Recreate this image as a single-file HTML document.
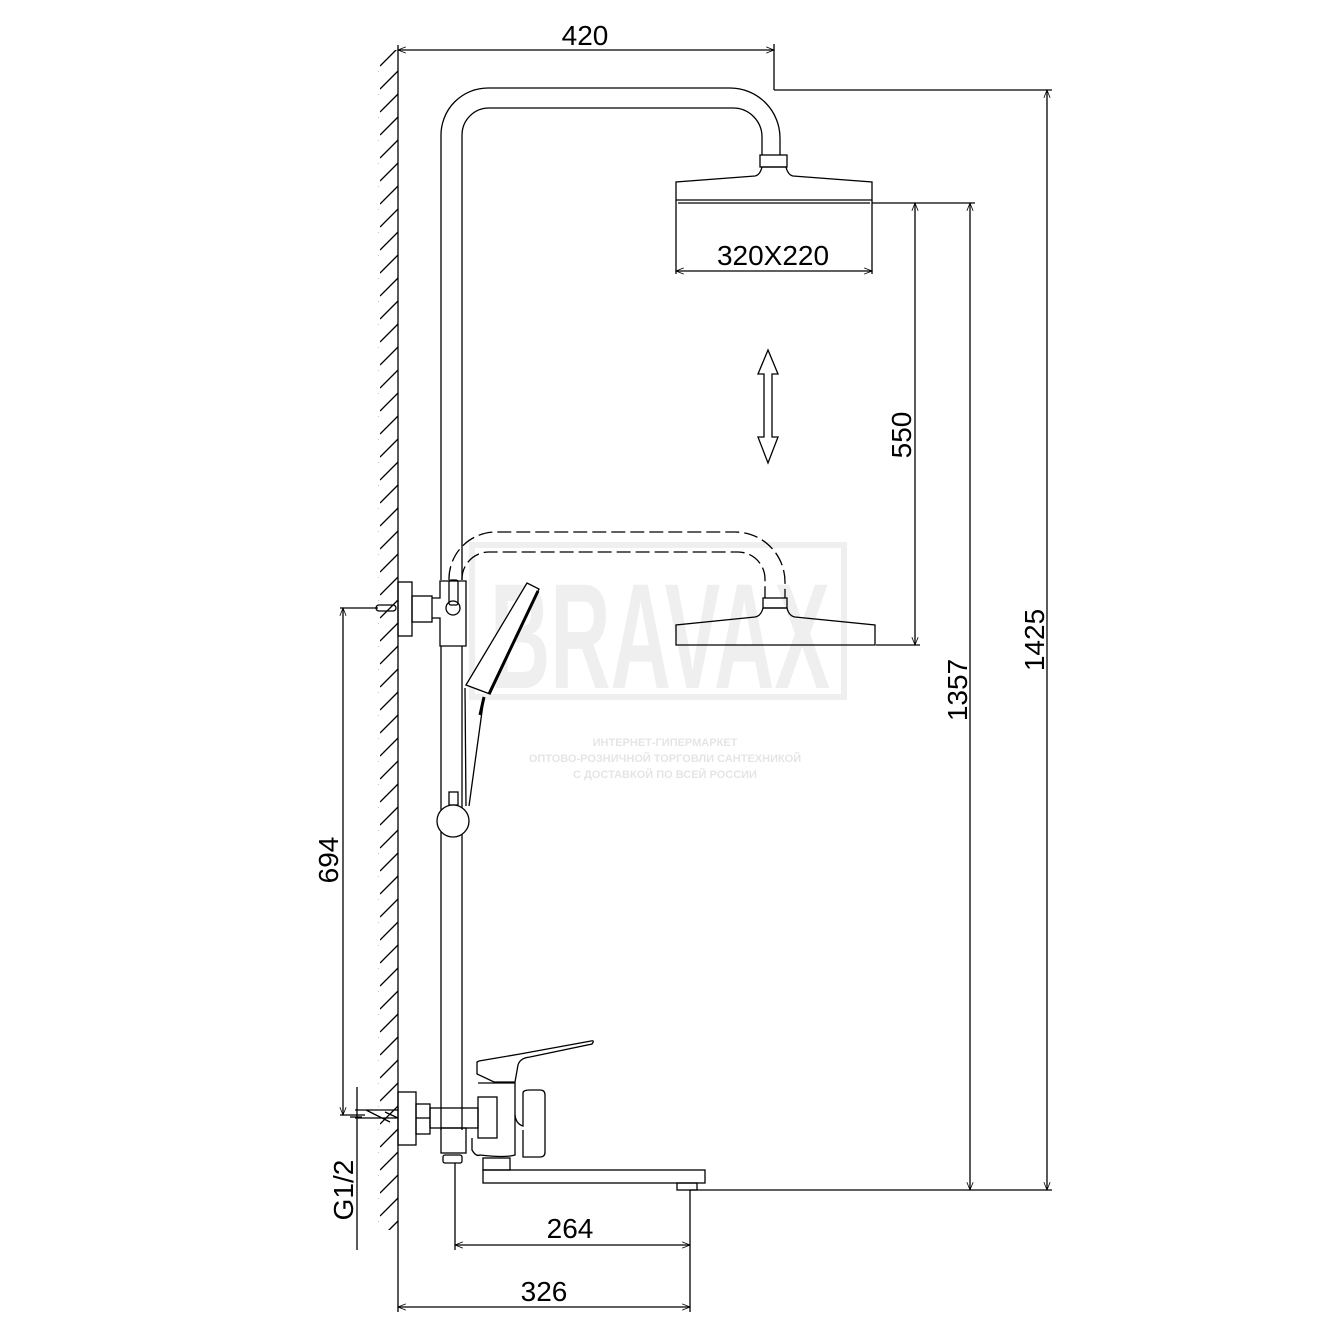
<!DOCTYPE html>
<html><head><style>
html,body{margin:0;padding:0;background:#fff}
svg{display:block}
text{font-family:"Liberation Sans","Noto Sans CJK SC",sans-serif;fill:#000}
</style></head><body>
<svg width="1333" height="1333" viewBox="0 0 1333 1333" xmlns="http://www.w3.org/2000/svg">
<defs>
<marker id="a" viewBox="0 0 10 10" refX="10" refY="5" markerWidth="10" markerHeight="6" orient="auto-start-reverse"><path d="M0,1 L10,5 L0,9" fill="none" stroke="#000" stroke-width="1"/></marker>
<pattern id="h" width="20" height="23" patternUnits="userSpaceOnUse"><line x1="0" y1="20" x2="18" y2="2" stroke="#000" stroke-width="1.3"/></pattern>
</defs>
<!-- watermark -->
<g opacity="0.06">
<rect x="472" y="545" width="372" height="152" fill="none" stroke="#000" stroke-width="6"/>
<text x="490" y="688" font-size="150" font-weight="bold" textLength="340" lengthAdjust="spacingAndGlyphs">BRAVAX</text>
</g>
<g opacity="0.1" font-size="11" font-weight="bold" text-anchor="middle">
<text x="665" y="746">ИНТЕРНЕТ-ГИПЕРМАРКЕТ</text>
<text x="665" y="762">ОПТОВО-РОЗНИЧНОЙ ТОРГОВЛИ САНТЕХНИКОЙ</text>
<text x="665" y="778">С ДОСТАВКОЙ ПО ВСЕЙ РОССИИ</text>
</g>
<g fill="none" stroke="#000" stroke-width="1.3">
<rect x="378" y="50" width="20" height="1180" fill="url(#h)" stroke="none"/>
<line x1="398" y1="45" x2="398" y2="1312"/>
<line x1="398" y1="50" x2="774" y2="50" marker-start="url(#a)" marker-end="url(#a)"/>
<line x1="774" y1="44" x2="774" y2="90"/>
<path d="M441,580 V135 A47,47 0 0 1 488,88 H730 A50,50 0 0 1 780,138 V155"/>
<path d="M462,580 V135 A27,27 0 0 1 489,108 H733 A29,29 0 0 1 762,137 V155"/>
<rect x="760" y="155" width="27" height="12"/>
<path d="M676,200 V182 L755,176 Q760,175 762,167 H786 Q788,175 793,176 L872,182 V200 Z"/>
<line x1="678" y1="203" x2="870" y2="203"/>
<line x1="676" y1="200" x2="676" y2="274"/>
<line x1="872" y1="200" x2="872" y2="274"/>
<line x1="676" y1="271" x2="872" y2="271" marker-start="url(#a)" marker-end="url(#a)"/>
<line x1="774" y1="90" x2="1052" y2="90"/>
<line x1="1047" y1="90" x2="1047" y2="1190" marker-start="url(#a)" marker-end="url(#a)"/>
<line x1="872" y1="203" x2="975" y2="203"/>
<line x1="970" y1="203" x2="970" y2="1190" marker-start="url(#a)" marker-end="url(#a)"/>
<line x1="915" y1="203" x2="915" y2="645" marker-start="url(#a)" marker-end="url(#a)"/>
<line x1="876" y1="645" x2="920" y2="645"/>
<line x1="690" y1="1190" x2="1052" y2="1190"/>
<path d="M768,350 L758,374 H764 V437 H758 L768,463 L778,437 H772 V374 H778 Z"/>
<path d="M449,580 A47,47 0 0 1 496,532 H735 A50,50 0 0 1 785,582 V598" stroke-dasharray="14,5"/>
<path d="M462,580 A27,27 0 0 1 489,552 H738 A27,27 0 0 1 765,579 V598" stroke-dasharray="14,5"/>
<rect x="763" y="598" width="24" height="10"/>
<path d="M676,645 V625 L755,617 Q761,616 763,608 H787 Q789,616 795,617 L875,625 V645 Z"/>
<rect x="398" y="582" width="14" height="54"/>
<rect x="412" y="596" width="20" height="26"/>
<path d="M432,598 H440 V581 H466 V646 H440 V618 H432"/>
<rect x="449" y="580" width="9" height="25" rx="2"/>
<circle cx="453" cy="608" r="7"/>
<rect x="376" y="605" width="20" height="6" rx="3"/>
<line x1="340" y1="608" x2="378" y2="608"/>
<line x1="441" y1="646" x2="441" y2="1130"/>
<line x1="462" y1="646" x2="462" y2="1130"/>
<rect x="449" y="792" width="9" height="13"/>
<circle cx="453" cy="821" r="16" fill="#fff"/>
<path d="M466,685 L527,583 L539,589 L490,694 Z" fill="#fff"/>
<line x1="489" y1="694" x2="538" y2="591" stroke-width="3"/>
<path d="M465,688 L466,806 M484,697 L469,806"/>
<path d="M484,697 L480,715" stroke-width="3"/>
<line x1="343" y1="608" x2="343" y2="1115" marker-start="url(#a)" marker-end="url(#a)"/>
<line x1="340" y1="1115" x2="365" y2="1115"/>
<rect x="398" y="1092" width="18" height="53"/>
<rect x="416" y="1104" width="14" height="30"/>
<line x1="416" y1="1118" x2="430" y2="1118"/>
<rect x="430" y="1108" width="48" height="20"/>
<path d="M355,1110 H398 M355,1118 H398 M366,1110 L390,1122 M385,1112 L398,1118"/>
<line x1="357" y1="1087" x2="357" y2="1250"/>
<line x1="350" y1="1117" x2="362" y2="1117"/>
<rect x="441" y="1128" width="25" height="25"/>
<rect x="443" y="1155" width="19" height="8" rx="2"/>
<path d="M478,1083 H515 V1155 Q505,1158 480,1155 Q476,1157 472,1150 V1138"/>
<rect x="478" y="1097" width="19" height="41"/>
<path d="M477,1062 V1074 L494,1082 H515 L518,1065 Q520,1058 530,1057 L592,1044 Q595,1040 591,1041 L520,1054 L479,1061 Z"/>
<path d="M515,1115 Q516,1124 523,1126 V1093 Q523,1090 530,1090 H540 Q545,1090 545,1095 V1152 Q545,1157 540,1157 H523 V1130"/>
<rect x="483" y="1158" width="27" height="12"/>
<rect x="483" y="1170" width="222" height="13"/>
<rect x="677" y="1183" width="20" height="7"/>
<line x1="455" y1="1163" x2="455" y2="1250"/>
<line x1="690" y1="1190" x2="690" y2="1312"/>
<line x1="455" y1="1245" x2="690" y2="1245" marker-start="url(#a)" marker-end="url(#a)"/>
<line x1="398" y1="1307" x2="690" y2="1307" marker-start="url(#a)" marker-end="url(#a)"/>
</g>
<g font-size="28">
<text x="585" y="45" text-anchor="middle">420</text>
<text x="773" y="265" text-anchor="middle">320X220</text>
<text x="570" y="1238" text-anchor="middle">264</text>
<text x="544" y="1301" text-anchor="middle">326</text>
<text transform="translate(911,435) rotate(-90)" text-anchor="middle">550</text>
<text transform="translate(967,690) rotate(-90)" text-anchor="middle">1357</text>
<text transform="translate(1044,640) rotate(-90)" text-anchor="middle">1425</text>
<text transform="translate(338,860) rotate(-90)" text-anchor="middle">694</text>
<text transform="translate(353,1190) rotate(-90)" text-anchor="middle">G1/2</text>
</g>
</svg>
</body></html>
